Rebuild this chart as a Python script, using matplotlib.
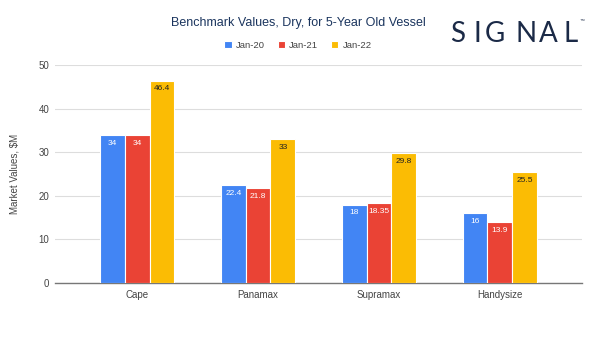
import matplotlib
matplotlib.use("Agg")
import matplotlib.pyplot as plt
import numpy as np

plt.rcParams["font.family"] = ["Liberation Sans", "DejaVu Sans"]

categories = ["Cape", "Panamax", "Supramax", "Handysize"]
series_names = ["Jan-20", "Jan-21", "Jan-22"]
jan20 = [34, 22.4, 18, 16]
jan21 = [34, 21.8, 18.35, 13.9]
jan22 = [46.4, 33, 29.8, 25.5]
label_text = [["34", "22.4", "18", "16"], ["34", "21.8", "18.35", "13.9"], ["46.4", "33", "29.8", "25.5"]]
colors = ["#4285F4", "#EA4335", "#FBBC04"]
label_colors = ["white", "white", "#222222"]

fig = plt.figure(figsize=(6, 3.5), dpi=100)
ax = fig.add_axes([55/600, 1-283/350, (582-55)/600, (283-65)/350])

x = np.arange(len(categories))
w = 0.205
for i, vals in enumerate([jan20, jan21, jan22]):
    pos = x + (i-1)*w
    ax.bar(pos, vals, width=w, color=colors[i], edgecolor="white", linewidth=0.8,
           label=series_names[i], zorder=3)
    for xi, v, t in zip(pos, vals, label_text[i]):
        ax.text(xi, v-1.1, t, ha="center", va="top", fontsize=6, color=label_colors[i], zorder=4)

ax.set_xlim(-0.68, 3.68)
ax.set_ylim(0, 50)
ax.set_yticks([0, 10, 20, 30, 40, 50])
ax.set_xticks(x)
ax.set_xticklabels(categories)
ax.tick_params(axis="both", length=0, labelsize=7, colors="#444444")
ax.tick_params(axis="x", pad=5)
ax.tick_params(axis="y", pad=4)
ax.grid(axis="y", color="#DDDDDD", linewidth=0.8, zorder=0)
for s in ["top", "right", "left"]:
    ax.spines[s].set_visible(False)
ax.spines["bottom"].set_color("#777777")
ax.spines["bottom"].set_linewidth(1)
ax.set_ylabel("Market Values, $M", fontsize=7, color="#444444", labelpad=14)

fig.text(298/600, 1-23/350, "Benchmark Values, Dry, for 5-Year Old Vessel", ha="center", va="center",
         fontsize=9, color="#1B355E")
fig.legend(loc="center", bbox_to_anchor=(298/600, 1-45/350), ncol=3, frameon=False,
           fontsize=6.8, handlelength=0.75, handleheight=0.75, handletextpad=0.5, columnspacing=1.3,
           labelcolor="#444444")

logo_letters = ["S", "I", "G", "N", "A", "L"]
logo_left = [450, 474, 485, 516, 539, 564]
for ch, lx in zip(logo_letters, logo_left):
    fig.text(lx/600, 1-42/350, ch, ha="left", va="baseline", fontsize=20, color="#1B2A47",
             family="Lato")
fig.text(580/600, 1-20/350, "™", ha="left", va="center", fontsize=3.5, color="#1B2A47")

fig.savefig("out.png", dpi=100)
